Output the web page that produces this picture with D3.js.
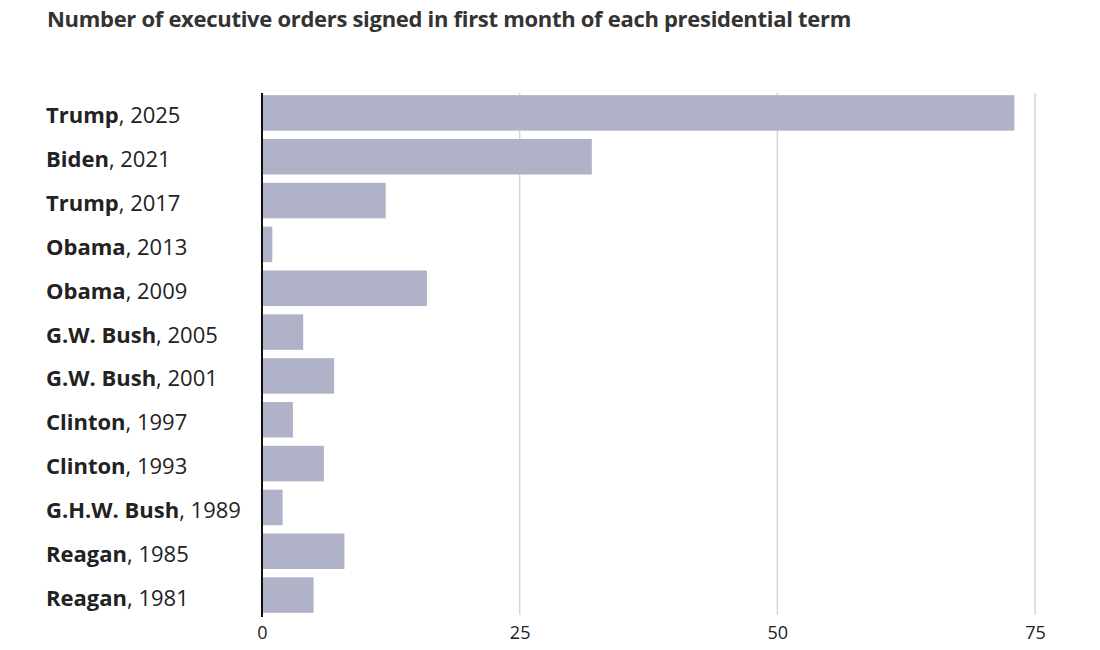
<!DOCTYPE html>
<html><head><meta charset="utf-8">
<script src="https://cdn.jsdelivr.net/npm/d3@7"></script>
<style>body{margin:0;background:#fff;}svg{display:block;}</style>
</head><body>
<svg id="chart" width="1100" height="650"></svg>
<script>
const names = ["Trump","Biden","Trump","Obama","Obama","G.W. Bush","G.W. Bush","Clinton","Clinton","G.H.W. Bush","Reagan","Reagan"];
const years = ["2025","2021","2017","2013","2009","2005","2001","1997","1993","1989","1985","1981"];
const orders = [73,32,12,1,16,4,7,3,6,2,8,5];
const xTicks = [0,25,50,75];
const title = "Number of executive orders signed in first month of each presidential term";

const svg = d3.select("#chart");
const font = "'Open Sans', Lato, sans-serif";
const data = names.map((n,i)=>({name:n, year:years[i], value:orders[i], key:i}));

const x = d3.scaleLinear().domain([0,75]).range([262,1035]);
const y = d3.scaleBand().domain(data.map(d=>d.key)).range([91,617]).paddingInner(0.19).paddingOuter(0.095);

svg.append("text").attr("x",47).attr("y",27).attr("font-family",font).attr("font-weight",700)
  .attr("font-size",22).attr("fill","#333").attr("letter-spacing",-0.3).text(title);

// gridlines
svg.append("g").selectAll("line").data(xTicks.filter(t=>t>0)).join("line")
  .attr("x1",d=>x(d)).attr("x2",d=>x(d)).attr("y1",93).attr("y2",615)
  .attr("stroke","#d6d6d6").attr("stroke-width",1.5);

svg.append("g").selectAll("rect").data(data).join("rect")
  .attr("x",x(0)).attr("y",d=>y(d.key)).attr("width",d=>x(d.value)-x(0)).attr("height",y.bandwidth())
  .attr("fill","#b0b2c8");

svg.append("line").attr("x1",x(0)).attr("x2",x(0)).attr("y1",93).attr("y2",617)
  .attr("stroke","#111").attr("stroke-width",2);

// x axis labels
const xAxis = d3.axisBottom(x).tickValues(xTicks).tickSize(0).tickPadding(0);
const gx = svg.append("g").attr("transform","translate(0,626)").call(xAxis);
gx.select(".domain").remove();
gx.selectAll("text").attr("font-family",font).attr("font-size",18).attr("fill","#222").attr("dy","0.71em");

// y labels
const lab = svg.append("g").selectAll("text").data(data).join("text")
  .attr("x",46).attr("y",d=>y(d.key)+y.bandwidth()/2).attr("dy","0.48em")
  .attr("font-family",font).attr("font-size",22).attr("fill","#222");
lab.append("tspan").attr("font-weight",700).text(d=>d.name);
lab.append("tspan").text(d=>", "+d.year);
</script>
</body></html>
